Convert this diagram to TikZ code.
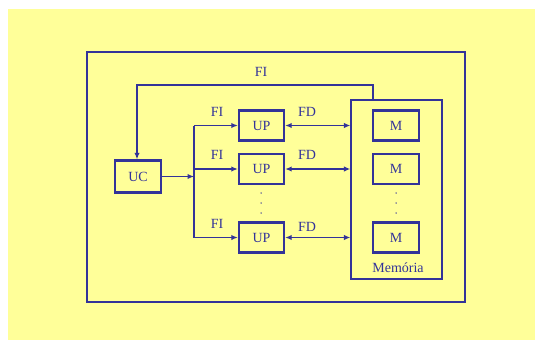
\documentclass[tikz,border=0pt]{standalone}
\usepackage{fontspec}
\setmainfont{Liberation Serif}
\usetikzlibrary{arrows.meta}
\definecolor{bgyellow}{HTML}{FFFF99}
\definecolor{ink}{HTML}{333399}
\begin{document}
\begin{tikzpicture}[x=1pt,y=-1pt,
  unit/.style={draw=ink,line width=2.4pt,minimum width=45pt,minimum height=30pt,inner sep=0pt,text=ink,font=\fontsize{14}{15}\selectfont},
  frame/.style={draw=ink,line width=1.3pt},
  wire/.style={draw=ink,line width=1.3pt},
  tip/.style={-{Latex[length=6.5pt,width=5.5pt]}},
  lbl/.style={text=ink,font=\fontsize{14}{15}\selectfont,inner sep=0pt},
  dot/.style={fill=ink,circle,inner sep=0pt,minimum size=1.5pt}]
\useasboundingbox (0,0) rectangle (535,340);
\fill[bgyellow] (8,9) rectangle (535,340);
% outer system frame and memory enclosure
\draw[frame] (87,52) rectangle (465,302);
\node[frame,minimum width=91pt,minimum height=179pt,inner sep=0pt] (mem) at (396.5,189.5) {};
\node[lbl] (memlbl) at (398,268) {Memória};
% control unit
\node[unit,minimum width=46pt,minimum height=32pt] (uc) at (138,176.5) {UC};
% processing units
\node[unit] (up1) at (261.5,125.5) {UP};
\node[unit] (up2) at (261.5,169) {UP};
\node[unit] (up3) at (261.5,237.5) {UP};
% memory modules
\node[unit,minimum width=46pt] (m1) at (396,125.5) {M};
\node[unit,minimum width=46pt] (m2) at (396,169) {M};
\node[unit,minimum width=46pt] (m3) at (396,237.5) {M};
% ellipsis dots
\foreach \yy [count=\i] in {193,203,213}{
  \node[dot] (upd\i) at (261,\yy) {};
  \node[dot] (md\i) at (396,\yy) {};
}
% instruction stream from memory back to UC
\coordinate (fia) at (373,85);
\coordinate (fib) at (137,85);
\draw[wire,tip] (mem.north -| fia) -- (fia) -- (fib) -- (uc.north -| fib);
\node[lbl] (fitop) at (261,72) {FI};
% instruction broadcast from UC to the UPs
\coordinate (bus) at (194,176.5);
\coordinate (bus1) at (194,125.5);
\coordinate (bus3) at (194,237.5);
\draw[wire,tip] (uc.east) -- (bus);
\draw[wire] (bus1) -- (bus3);
\draw[wire,tip] (bus1) -- (up1.west);
\draw[wire,tip] (bus |- up2.west) -- (up2.west);
\draw[wire,tip] (bus3) -- (up3.west);
% data streams between UPs and memory
\foreach \u in {up1,up2,up3}{
  \draw[wire,{Latex[length=6.5pt,width=5.5pt]}-{Latex[length=6.5pt,width=5.5pt]}] (\u.east) -- (\u.east -| mem.west);
}
\node[lbl] (fi1) at (217,112) {FI};
\node[lbl] (fi2) at (217,155) {FI};
\node[lbl] (fi3) at (217,224) {FI};
\node[lbl] (fd1) at (307,112) {FD};
\node[lbl] (fd2) at (307,155) {FD};
\node[lbl] (fd3) at (307,227) {FD};
\end{tikzpicture}
\end{document}
